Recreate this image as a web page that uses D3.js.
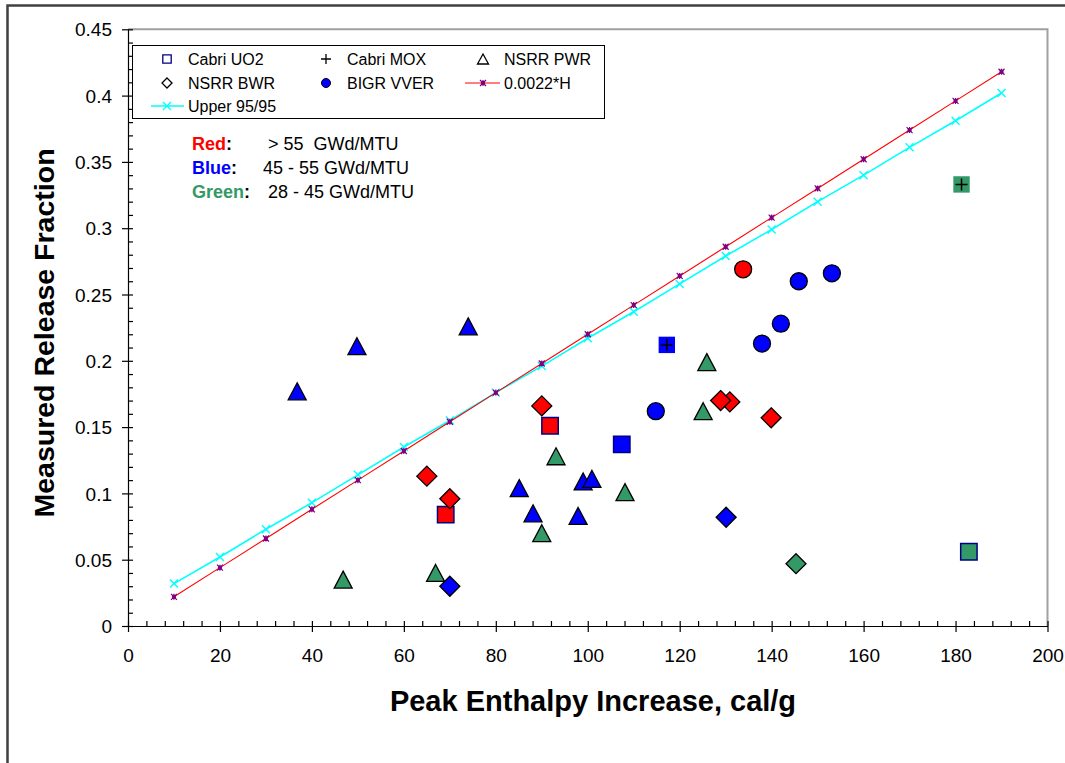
<!DOCTYPE html>
<html>
<head>
<meta charset="utf-8">
<script src="https://cdn.jsdelivr.net/npm/d3@7"></script>
<style>
body { margin: 0; background: #fff; }
text { font-family: "Liberation Sans", Arial, sans-serif; }
</style>
</head>
<body>
<svg></svg>
<script>
"use strict";

// burnup classes (marker fill colour)
var burnupNames = ['Red', 'Blue', 'Green'];
var burnupRanges = ['> 55  GWd/MTU', '45 - 55 GWd/MTU', '28 - 45 GWd/MTU'];
var burnupColors = ['#ff0000', '#0000ff', '#339966'];

// points: [peak enthalpy cal/g, release fraction, burnup class]
var cabriUO2 = [[69.1, 0.084, 0], [91.8, 0.151, 0], [107.4, 0.137, 1], [182.9, 0.056, 2]];
var cabriMOX = [[117.2, 0.212, 1], [181.3, 0.333, 2]];
var nsrrPWR = [
    [36.8, 0.177, 1], [49.8, 0.211, 1], [74.0, 0.226, 1], [85.1, 0.104, 1],
    [88.1, 0.085, 1], [97.9, 0.083, 1], [99.0, 0.109, 1], [100.9, 0.111, 1],
    [46.8, 0.035, 2], [66.9, 0.040, 2], [93.1, 0.128, 2], [90.0, 0.070, 2],
    [108.1, 0.101, 2], [125.9, 0.199, 2], [125.1, 0.162, 2]
];
var nsrrBWR = [
    [65.0, 0.113, 0], [70.0, 0.096, 0], [90.0, 0.166, 0], [130.9, 0.169, 0],
    [128.9, 0.170, 0], [139.9, 0.157, 0],
    [70.0, 0.030, 1], [130.1, 0.082, 1],
    [145.3, 0.047, 2]
];
var bigrVVER = [
    [133.8, 0.269, 0],
    [145.9, 0.260, 1], [153.1, 0.266, 1], [142.0, 0.228, 1], [137.9, 0.213, 1], [114.8, 0.162, 1]
];

// lines
var enthalpyGrid = [10, 20, 30, 40, 50, 60, 70, 80, 90, 100, 110, 120, 130, 140, 150, 160, 170, 180, 190];
var fitValues = [0.022, 0.044, 0.066, 0.088, 0.110, 0.132, 0.154, 0.176, 0.198, 0.220,
    0.242, 0.264, 0.286, 0.308, 0.330, 0.352, 0.374, 0.396, 0.418];
var upperValues = [0.032, 0.052, 0.073, 0.093, 0.114, 0.135, 0.155, 0.176, 0.196, 0.217,
    0.237, 0.258, 0.279, 0.299, 0.320, 0.340, 0.361, 0.381, 0.402];

// axes
var xTickValues = [0, 20, 40, 60, 80, 100, 120, 140, 160, 180, 200];
var yTickValues = [0, 0.05, 0.1, 0.15, 0.2, 0.25, 0.3, 0.35, 0.4, 0.45];
var yTickLabels = ['0', '0.05', '0.1', '0.15', '0.2', '0.25', '0.3', '0.35', '0.4', '0.45'];

var settings = {
    svg: { width: 1065, height: 763 },
    plot: { left: 128, right: 1047.5, top: 29.3, bottom: 626 },
    marker: { square: 8.2, diamond: 10, triW: 9, triH: 8.5, circle: 8.5 },
    navy: '#000080'
};

var x = d3.scaleLinear().domain([0, 200]).range([settings.plot.left, settings.plot.right]);
var y = d3.scaleLinear().domain([0, 0.45]).range([settings.plot.bottom, settings.plot.top]);

var shapes = {
    square: s => `M${-s},${-s}H${s}V${s}H${-s}Z`,
    diamond: s => `M0,${-s}L${s},0L0,${s}L${-s},0Z`,
    triangle: (w, h) => `M0,${-h}L${w},${h}L${-w},${h}Z`,
    plus: s => `M${-s},0H${s}M0,${-s}V${s}`,
    cross: s => `M${-s},${-s}L${s},${s}M${s},${-s}L${-s},${s}`,
    star: s => `M${-s},${-s}L${s},${s}M${s},${-s}L${-s},${s}M0,${-s}V${s}`
};

var svg = d3.select('svg')
    .attr('width', settings.svg.width)
    .attr('height', settings.svg.height);

svg.append('rect')
    .attr('width', settings.svg.width).attr('height', settings.svg.height)
    .attr('fill', 'white');

// outer chart frame
svg.append('rect')
    .attr('x', 7.5).attr('y', 5.5)
    .attr('width', 1100).attr('height', 800)
    .attr('fill', 'none')
    .attr('stroke', '#404040')
    .attr('stroke-width', 2.5);

// plot area border (top / right)
svg.append('path')
    .attr('d', `M${settings.plot.left},${settings.plot.top}H${settings.plot.right}V${settings.plot.bottom}`)
    .attr('fill', 'none')
    .attr('stroke', '#a0a0a0')
    .attr('stroke-width', 2);

// axes
var xAxis = svg.append('g')
    .attr('transform', `translate(0,${settings.plot.bottom})`)
    .call(d3.axisBottom(x).tickValues(xTickValues).tickSize(6).tickSizeOuter(0).tickFormat(d3.format('d')));
xAxis.selectAll('text').attr('font-size', 19).attr('dy', 0).attr('y', 36);

svg.append('g')
    .attr('transform', `translate(0,${settings.plot.bottom})`)
    .call(d3.axisTop(x).tickValues(d3.range(0, 201, 4)).tickSize(5).tickFormat(''))
    .call(g => g.select('.domain').remove());

var yAxis = svg.append('g')
    .attr('transform', `translate(${settings.plot.left},0)`)
    .call(d3.axisLeft(y).tickValues(yTickValues).tickSize(6).tickSizeOuter(0)
        .tickFormat((d, i) => yTickLabels[i]));
yAxis.selectAll('text').attr('font-size', 19).attr('x', -16).attr('dy', '0.35em');

svg.append('g')
    .attr('transform', `translate(${settings.plot.left},0)`)
    .call(d3.axisRight(y).tickValues(d3.range(0, 0.451, 0.01)).tickSize(5).tickFormat(''))
    .call(g => g.select('.domain').remove());

svg.selectAll('.domain, .tick line').attr('stroke', '#000').attr('stroke-width', 1.2);
svg.selectAll('.tick text').attr('fill', '#000').attr('font-family', '"Liberation Sans", Arial, sans-serif');

// axis titles
svg.append('text')
    .attr('x', 593).attr('y', 711)
    .attr('text-anchor', 'middle')
    .attr('font-size', 29).attr('font-weight', 'bold')
    .text('Peak Enthalpy Increase, cal/g');

svg.append('text')
    .attr('transform', 'translate(54,333) rotate(-90)')
    .attr('text-anchor', 'middle')
    .attr('font-size', 28.5).attr('font-weight', 'bold')
    .text('Measured Release Fraction');

// lines
var line = d3.line().x(d => x(d[0])).y(d => y(d[1]));
var fitData = enthalpyGrid.map((h, i) => [h, fitValues[i]]);
var upperData = enthalpyGrid.map((h, i) => [h, upperValues[i]]);

var lines = svg.append('g').attr('class', 'lines');

lines.append('path')
    .attr('d', line(upperData))
    .attr('fill', 'none').attr('stroke', '#00ffff').attr('stroke-width', 1.6);
lines.append('g')
    .selectAll('path')
    .data(upperData)
    .enter()
    .append('path')
    .attr('transform', d => `translate(${x(d[0])},${y(d[1])})`)
    .attr('d', shapes.cross(4))
    .attr('stroke', '#00ffff').attr('stroke-width', 1.4);

lines.append('path')
    .attr('d', line(fitData))
    .attr('fill', 'none').attr('stroke', '#ff0000').attr('stroke-width', 1.1);
var fitMarks = lines.append('g')
    .selectAll('g')
    .data(fitData)
    .enter()
    .append('g')
    .attr('transform', d => `translate(${x(d[0])},${y(d[1])})`);
fitMarks.append('path').attr('d', shapes.square(2)).attr('fill', '#800080');
fitMarks.append('path').attr('d', shapes.star(3)).attr('stroke', '#800080').attr('stroke-width', 1.2);

// markers
var marks = svg.append('g').attr('class', 'markers');

marks.append('g')
    .selectAll('path')
    .data(cabriUO2)
    .enter()
    .append('path')
    .attr('transform', d => `translate(${x(d[0])},${y(d[1])})`)
    .attr('d', shapes.square(settings.marker.square))
    .attr('fill', d => burnupColors[d[2]])
    .attr('stroke', settings.navy).attr('stroke-width', 1.5);

var mox = marks.append('g')
    .selectAll('g')
    .data(cabriMOX)
    .enter()
    .append('g')
    .attr('transform', d => `translate(${x(d[0])},${y(d[1])})`);
mox.append('path')
    .attr('d', shapes.square(settings.marker.square))
    .attr('fill', d => burnupColors[d[2]]);
mox.append('path')
    .attr('d', shapes.plus(6))
    .attr('stroke', '#000').attr('stroke-width', 1.5);

marks.append('g')
    .selectAll('path')
    .data(nsrrPWR)
    .enter()
    .append('path')
    .attr('transform', d => `translate(${x(d[0])},${y(d[1])})`)
    .attr('d', shapes.triangle(settings.marker.triW, settings.marker.triH))
    .attr('fill', d => burnupColors[d[2]])
    .attr('stroke', '#000').attr('stroke-width', 1.3).attr('stroke-linejoin', 'miter');

marks.append('g')
    .selectAll('path')
    .data(nsrrBWR)
    .enter()
    .append('path')
    .attr('transform', d => `translate(${x(d[0])},${y(d[1])})`)
    .attr('d', shapes.diamond(settings.marker.diamond))
    .attr('fill', d => burnupColors[d[2]])
    .attr('stroke', '#000').attr('stroke-width', 1.3);

marks.append('g')
    .selectAll('circle')
    .data(bigrVVER)
    .enter()
    .append('circle')
    .attr('cx', d => x(d[0]))
    .attr('cy', d => y(d[1]))
    .attr('r', settings.marker.circle)
    .attr('fill', d => burnupColors[d[2]])
    .attr('stroke', '#000').attr('stroke-width', 1.3);

// legend
var legend = svg.append('g').attr('class', 'legend');
legend.append('rect')
    .attr('x', 132.5).attr('y', 45.5)
    .attr('width', 472).attr('height', 73)
    .attr('fill', 'white')
    .attr('stroke', '#000').attr('stroke-width', 1);

var legendItems = [
    { label: 'Cabri UO2', col: 0, row: 0, kind: 'square' },
    { label: 'Cabri MOX', col: 1, row: 0, kind: 'plus' },
    { label: 'NSRR PWR', col: 2, row: 0, kind: 'triangle' },
    { label: 'NSRR BWR', col: 0, row: 1, kind: 'diamond' },
    { label: 'BIGR VVER', col: 1, row: 1, kind: 'circle' },
    { label: '0.0022*H', col: 2, row: 1, kind: 'fit' },
    { label: 'Upper 95/95', col: 0, row: 2, kind: 'upper' }
];
var legendCols = [188, 347, 504];
var legendRows = [59, 83, 106];

var li = legend.selectAll('.item')
    .data(legendItems)
    .enter()
    .append('g')
    .attr('transform', d => `translate(${legendCols[d.col]},${legendRows[d.row]})`);

li.append('text')
    .attr('y', 5.8)
    .attr('font-size', 16)
    .text(d => d.label);

li.each(function (d) {
    var g = d3.select(this).append('g').attr('transform', 'translate(-21,0)');
    if (d.kind === 'square') {
        g.append('path').attr('d', shapes.square(4.2)).attr('fill', 'none').attr('stroke', settings.navy).attr('stroke-width', 1.3);
    } else if (d.kind === 'plus') {
        g.append('path').attr('d', shapes.plus(5)).attr('stroke', '#000').attr('stroke-width', 1.3);
    } else if (d.kind === 'triangle') {
        g.append('path').attr('d', shapes.triangle(5.5, 5)).attr('fill', 'none').attr('stroke', '#000').attr('stroke-width', 1.3);
    } else if (d.kind === 'diamond') {
        g.append('path').attr('d', shapes.diamond(5)).attr('fill', 'none').attr('stroke', '#000').attr('stroke-width', 1.3);
    } else if (d.kind === 'circle') {
        g.append('circle').attr('r', 4.5).attr('fill', '#0000ff').attr('stroke', '#000').attr('stroke-width', 1);
    } else if (d.kind === 'fit') {
        g.append('path').attr('d', 'M-18,0H17').attr('stroke', '#ff0000').attr('stroke-width', 1.1);
        g.append('path').attr('d', shapes.square(2)).attr('fill', '#800080');
        g.append('path').attr('d', shapes.star(3)).attr('stroke', '#800080').attr('stroke-width', 1.2);
    } else if (d.kind === 'upper') {
        g.append('path').attr('d', 'M-16,0H17').attr('stroke', '#00ffff').attr('stroke-width', 1.6);
        g.append('path').attr('d', shapes.cross(4)).attr('stroke', '#00ffff').attr('stroke-width', 1.4);
    }
});

// burnup colour key
var keyRows = [150, 173.5, 197.5];
var keyRangeX = [268, 263, 268];
var key = svg.append('g').attr('class', 'burnup-key')
    .selectAll('g')
    .data(burnupNames)
    .enter()
    .append('g');

var keyName = key.append('text')
    .attr('x', 192)
    .attr('y', (d, i) => keyRows[i])
    .attr('font-size', 18)
    .attr('font-weight', 'bold');
keyName.append('tspan').attr('fill', (d, i) => burnupColors[i]).text(d => d);
keyName.append('tspan').attr('fill', '#000').text(':');

key.append('text')
    .attr('x', (d, i) => keyRangeX[i])
    .attr('y', (d, i) => keyRows[i])
    .attr('font-size', 18)
    .attr('xml:space', 'preserve')
    .style('white-space', 'pre')
    .text((d, i) => burnupRanges[i]);
</script>
</body>
</html>
